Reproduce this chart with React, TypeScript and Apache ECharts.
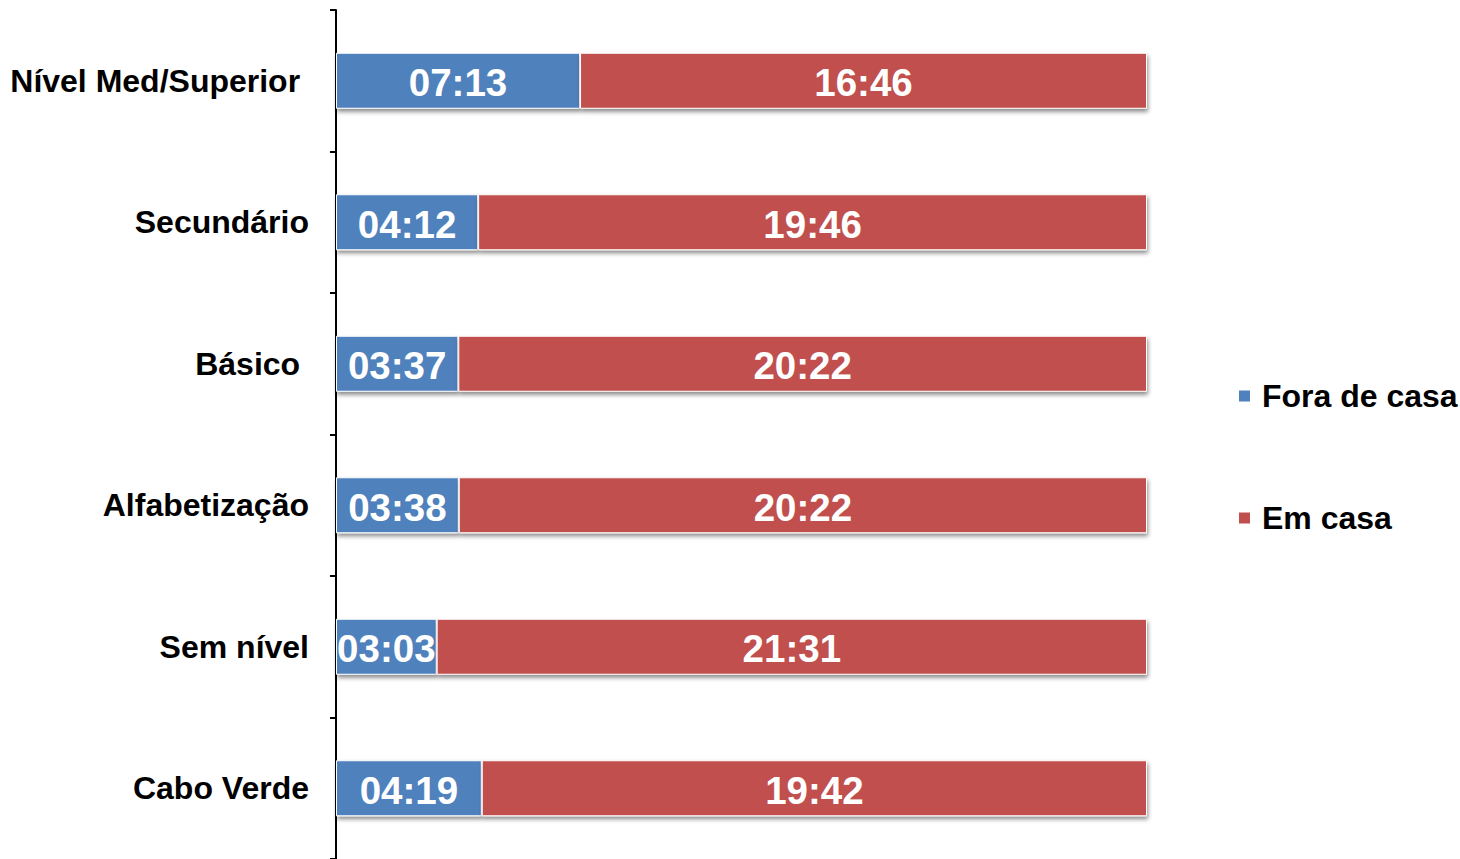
import React, { useEffect, useRef } from "react";
import * as echarts from "echarts";

// top-to-bottom as in the picture
const categories = ["Nível Med/Superior ", "Secundário", "Básico ", "Alfabetização", "Sem nível", "Cabo Verde"];
const foraDeCasa = ["07:13", "04:12", "03:37", "03:38", "03:03", "04:19"];
const emCasa = ["16:46", "19:46", "20:22", "20:22", "21:31", "19:42"];
const seriesNames = ["Fora de casa", "Em casa"];

const toMin = (s: string) => {
  const [h, m] = s.split(":").map(Number);
  return h * 60 + m;
};

export default function App() {
  const ref = useRef<HTMLDivElement>(null);
  useEffect(() => {
    if (!ref.current) return;
    const chart = echarts.init(ref.current, undefined, { renderer: "svg" });
    const cats = [...categories].reverse();
    const fora = [...foraDeCasa].reverse();
    const em = [...emCasa].reverse();
    const pct = (arr: string[], i: number) => {
      const total = toMin(fora[i]) + toMin(em[i]);
      return (toMin(arr[i]) / total) * 100;
    };
    const font = "'Liberation Sans', Arial, sans-serif";
    const mk = (name: string, arr: string[], color: string) => ({
      name,
      type: "bar",
      stack: "t",
      barWidth: 56,
      data: arr.map((_, i) => pct(arr, i)),
      itemStyle: {
        color,
        borderColor: "#ffffff",
        borderWidth: 1,
        shadowColor: "rgba(0,0,0,0.45)",
        shadowBlur: 4,
        shadowOffsetX: 1,
        shadowOffsetY: 3,
      },
      label: {
        show: true,
        position: "inside",
        offset: [0, 2],
        formatter: (p: any) => arr[p.dataIndex],
        color: "#ffffff",
        fontFamily: font,
        fontWeight: "bold",
        fontSize: 38.5,
      },
    });
    chart.setOption({
      animation: false,
      backgroundColor: "#ffffff",
      grid: { left: 336, top: 10, width: 811, height: 850, containLabel: false },
      xAxis: { type: "value", min: 0, max: 100, show: false },
      yAxis: {
        type: "category",
        data: cats,
        axisLine: { show: true, lineStyle: { color: "#000000", width: 2 } },
        axisTick: { show: true, length: 6, lineStyle: { color: "#000000", width: 2 } },
        axisLabel: {
          color: "#000000",
          fontFamily: font,
          fontWeight: "bold",
          fontSize: 32,
          margin: 27,
        },
        splitLine: { show: false },
      },
      legend: {
        orient: "vertical",
        left: 1232,
        top: 375,
        itemWidth: 25,
        itemHeight: 13,
        itemGap: 90,
        icon: "path://M0 0H10V10H0Z",
        data: seriesNames,
        textStyle: {
          color: "#000000",
          fontFamily: font,
          fontWeight: "bold",
          fontSize: 32,
          lineHeight: 32,
        },
      },
      series: [mk(seriesNames[0], fora, "#4F81BD"), mk(seriesNames[1], em, "#C0504D")],
    });
    return () => chart.dispose();
  }, []);
  return (
    <div
      ref={ref}
      style={{ position: "fixed", left: 0, top: 0, width: 1460, height: 859, background: "#fff" }}
    />
  );
}
